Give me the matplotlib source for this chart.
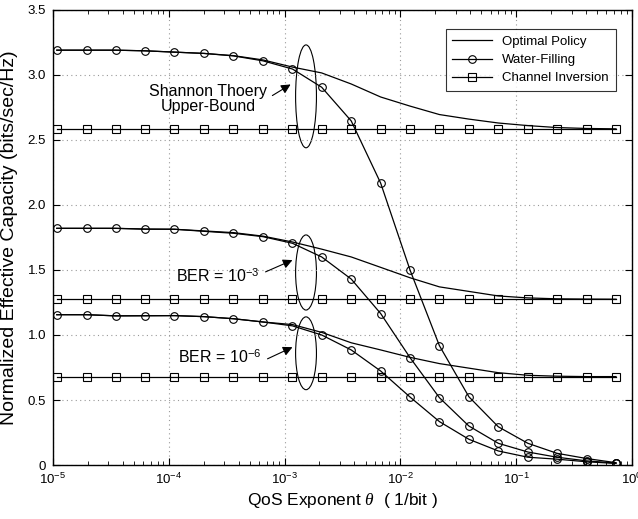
import matplotlib
matplotlib.use('Agg')
import matplotlib.pyplot as plt
from matplotlib.patches import Ellipse
from matplotlib.ticker import FixedLocator, FuncFormatter, LogLocator, NullFormatter
import numpy as np

plt.rcParams['font.family'] = ['Liberation Sans', 'DejaVu Sans']
plt.rcParams['mathtext.fontset'] = 'custom'
plt.rcParams['mathtext.rm'] = 'Liberation Sans'
plt.rcParams['mathtext.it'] = 'Liberation Serif:italic'

# QoS exponent theta (1/bit), marker positions
theta = np.array([
    1.08e-5, 1.95e-5, 3.49e-5, 6.27e-5, 1.12e-4, 2.02e-4, 3.62e-4, 6.50e-4,
    1.17e-3, 2.09e-3, 3.76e-3, 6.75e-3, 1.21e-2, 2.17e-2, 3.90e-2, 7.00e-2,
    0.126, 0.225, 0.405, 0.726])

# Shannon upper bound
opt_shannon = np.array([
    3.19, 3.19, 3.19, 3.185, 3.175, 3.165, 3.148, 3.115, 3.06, 3.015,
    2.93, 2.83, 2.76, 2.695, 2.66, 2.63, 2.61, 2.595, 2.588, 2.585])
wf_shannon = np.array([
    3.19, 3.19, 3.19, 3.185, 3.175, 3.165, 3.146, 3.108, 3.045, 2.905,
    2.646, 2.168, 1.50, 0.918, 0.525, 0.294, 0.167, 0.09, 0.05, 0.018])
ci_shannon = np.full(20, 2.585)

# BER = 1e-3
opt_ber3 = np.array([
    1.82, 1.82, 1.82, 1.815, 1.813, 1.80, 1.787, 1.76, 1.715, 1.66,
    1.60, 1.52, 1.44, 1.37, 1.335, 1.30, 1.285, 1.278, 1.276, 1.275])
wf_ber3 = np.array([
    1.82, 1.82, 1.82, 1.813, 1.813, 1.797, 1.782, 1.756, 1.705, 1.60,
    1.43, 1.165, 0.826, 0.518, 0.30, 0.167, 0.10, 0.06, 0.032, 0.015])
ci_ber3 = np.full(20, 1.275)

# BER = 1e-6
opt_ber6 = np.array([
    1.156, 1.156, 1.147, 1.148, 1.149, 1.141, 1.125, 1.10, 1.08, 1.02,
    0.94, 0.885, 0.828, 0.78, 0.745, 0.71, 0.69, 0.683, 0.68, 0.68])
wf_ber6 = np.array([
    1.156, 1.156, 1.147, 1.148, 1.149, 1.141, 1.125, 1.10, 1.07, 1.00,
    0.885, 0.723, 0.523, 0.334, 0.198, 0.108, 0.06, 0.045, 0.025, 0.012])
ci_ber6 = np.full(20, 0.68)

fig = plt.figure(figsize=(6.38, 5.19), dpi=100)
ax = fig.add_axes([0.083, 0.104, 0.9077, 0.877])

lw = 0.9
mk = dict(markerfacecolor='none', markeredgecolor='k', markeredgewidth=0.8)
groups = [(opt_shannon, wf_shannon, ci_shannon),
          (opt_ber3, wf_ber3, ci_ber3),
          (opt_ber6, wf_ber6, ci_ber6)]
for i, (opt, wf, ci) in enumerate(groups):
    ax.plot(theta, opt, 'k-', lw=lw, label='Optimal Policy' if i == 0 else None)
    ax.plot(theta, wf, 'k-', lw=lw, marker='o', ms=5.5, **mk,
            label='Water-Filling' if i == 0 else None)
    ax.plot(theta, ci, 'k-', lw=lw, marker='s', ms=6, **mk,
            label='Channel Inversion' if i == 0 else None)

ax.set_xscale('log')
ax.set_xlim(1e-5, 1)
ax.set_ylim(0, 3.5)
ax.yaxis.set_major_locator(FixedLocator([0, 0.5, 1.0, 1.5, 2.0, 2.5, 3.0, 3.5]))
ax.yaxis.set_major_formatter(FuncFormatter(lambda v, p: '0' if v == 0 else '%.1f' % v))
ax.xaxis.set_major_locator(LogLocator(base=10, numticks=10))
ax.xaxis.set_minor_locator(LogLocator(base=10, subs=np.arange(2, 10), numticks=10))
ax.xaxis.set_minor_formatter(NullFormatter())
ax.grid(True, which='major', linestyle=(0, (1, 3)), color='#999999', lw=0.8)
ax.tick_params(which='both', direction='in', top=True, right=True, labelsize=9.5)
ax.tick_params(which='major', length=5)
ax.tick_params(which='minor', length=3)
ax.tick_params(axis='x', pad=5)
ax.tick_params(axis='y', pad=5)
for s in ax.spines.values():
    s.set_linewidth(1.0)

ax.set_xlabel(r'QoS Exponent $\theta$  ( 1/bit )', fontsize=12.5, labelpad=3)
ax.set_ylabel('Normalized Effective Capacity (bits/sec/Hz)', fontsize=14, labelpad=7)

leg = ax.legend(loc='upper right', bbox_to_anchor=(0.983, 0.972), fontsize=9.5,
                frameon=True, fancybox=False, edgecolor='k', handlelength=3.0,
                labelspacing=0.45, borderpad=0.5)
leg.get_frame().set_linewidth(0.8)

# ellipses grouping the curves
for cy, h in [(0.81, 0.226), (0.423, 0.165), (0.2455, 0.16)]:
    ax.add_patch(Ellipse((0.437, cy), 0.036, h, transform=ax.transAxes,
                         fill=False, edgecolor='k', lw=0.8))


def px(x, y):
    return fig.transFigure.inverted().transform((x, 519 - y))


arrow = dict(arrowstyle='-|>', color='k', lw=0.8, mutation_scale=14)
for (tx, ty), (hx, hy) in [((270, 97), (293, 83)),
                           ((263, 273), (295, 259)),
                           ((265, 360), (295, 346))]:
    ax.annotate('', xy=px(hx, hy), xytext=px(tx, ty),
                xycoords='figure fraction', textcoords='figure fraction',
                arrowprops=arrow)

fig.text(*px(208, 99), 'Shannon Thoery\nUpper-Bound', fontsize=11.5,
         ha='center', va='center', linespacing=1.05)
fig.text(*px(218, 276), r'BER = 10$^{\mathregular{-3}}$', fontsize=11.5,
         ha='center', va='center')
fig.text(*px(220, 357), r'BER = 10$^{\mathregular{-6}}$', fontsize=11.5,
         ha='center', va='center')

fig.savefig('out.png', dpi=100)
